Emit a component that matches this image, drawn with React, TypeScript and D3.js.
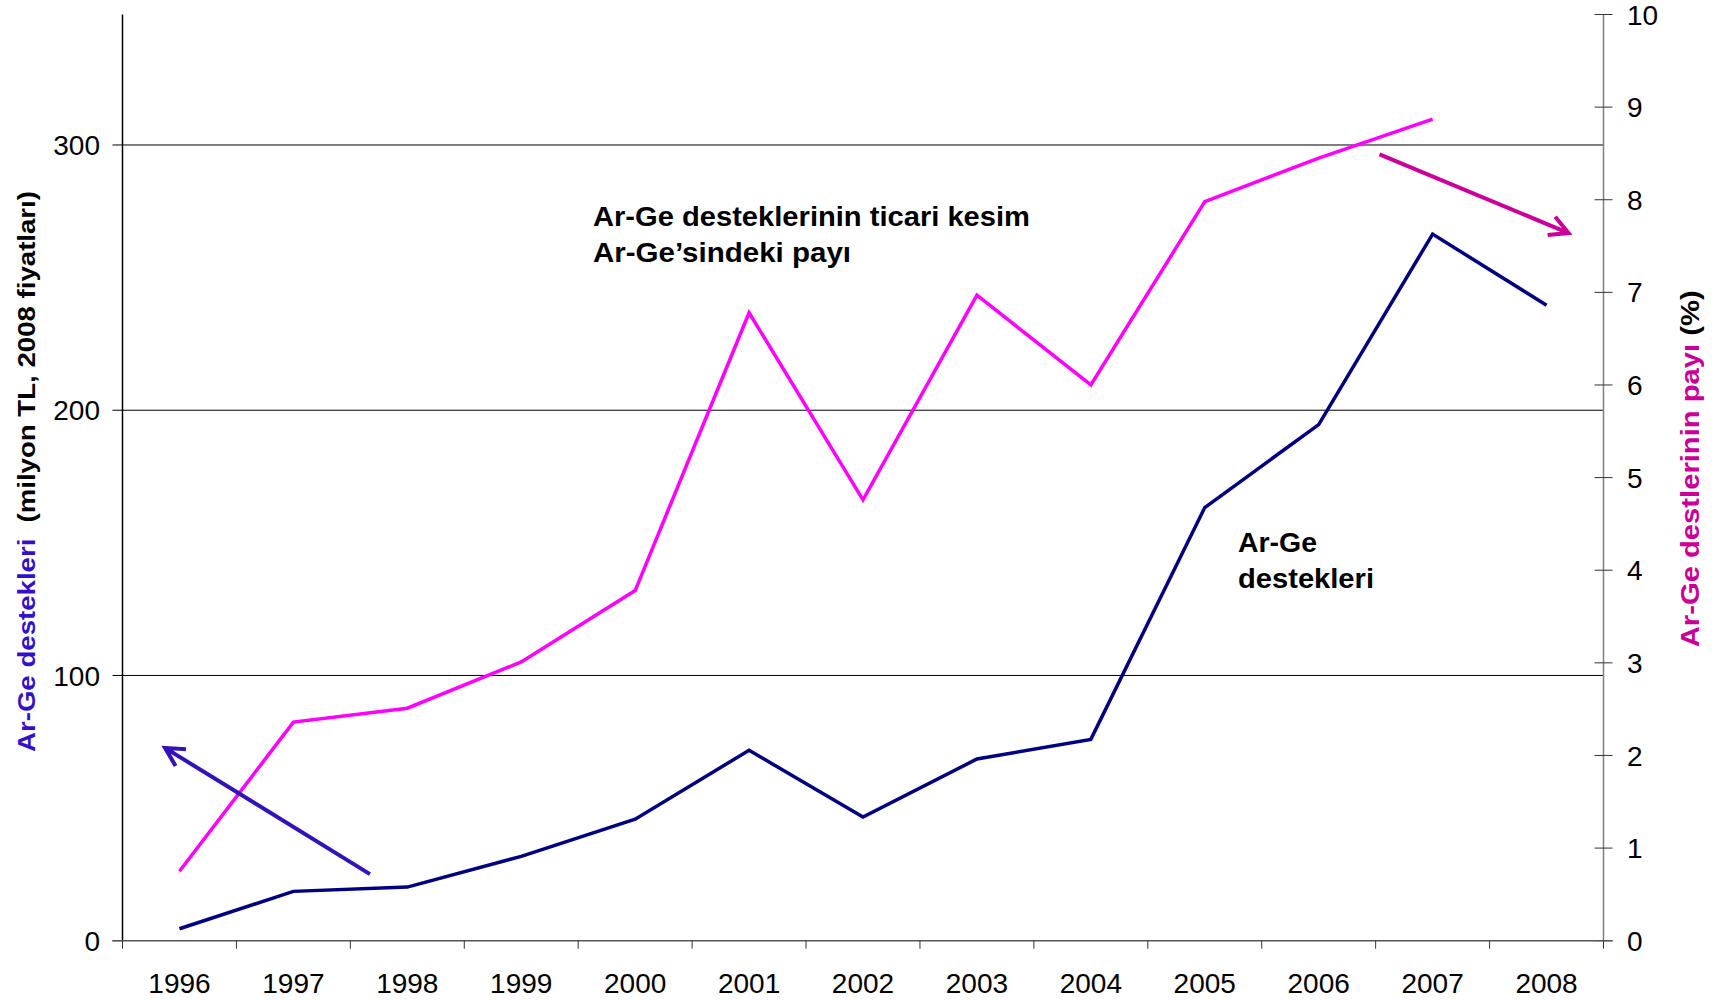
import React from "react";
import * as d3 from "d3";

const years = ["1996", "1997", "1998", "1999", "2000", "2001", "2002", "2003", "2004", "2005", "2006", "2007", "2008"];
// Ar-Ge destekleri (milyon TL, 2008 fiyatları) - left axis
const destekValues = [4.5, 18.6, 20.2, 31.8, 45.8, 71.8, 46.6, 68.5, 75.9, 163.3, 194.6, 266.4, 239.6];
// Ar-Ge desteklerinin payı (%) - right axis, no value for 2008
const payValues: (number | null)[] = [0.75, 2.36, 2.51, 3.01, 3.78, 6.78, 4.76, 6.97, 6.0, 7.98, 8.45, 8.87, null];

const leftTicks = [0, 100, 200, 300];
const gridValues = [100, 200, 300];
const rightTicks = [0, 1, 2, 3, 4, 5, 6, 7, 8, 9, 10];

// annotation arrows: [category index, value]
const blueArrow = { from: [1.672, 25.1], to: [-0.127, 72.7] };
const pinkArrow = { from: [10.534, 8.49], to: [12.193, 7.64] };

const W = 1715;
const H = 1001;
const left = 122.5;
const right = 1603.5;
const top = 14.5;
const bottom = 940.7;
const font = "'Liberation Sans', Arial, sans-serif";
const narrow = "'Liberation Sans Narrow', 'Arial Narrow', 'Liberation Sans', Arial, sans-serif";

function arrowPath(x1: number, y1: number, x2: number, y2: number) {
  const ang = Math.atan2(y1 - y2, x1 - x2);
  const len = 21;
  const spread = (28 * Math.PI) / 180;
  const a1 = [x2 + len * Math.cos(ang + spread), y2 + len * Math.sin(ang + spread)];
  const a2 = [x2 + len * Math.cos(ang - spread), y2 + len * Math.sin(ang - spread)];
  return `M${x1},${y1}L${x2},${y2}M${a1[0]},${a1[1]}L${x2},${y2}L${a2[0]},${a2[1]}`;
}

const App: React.FC = () => {
  const x = d3.scaleBand<string>().domain(years).range([left, right]).padding(0);
  const cx = (i: number) => (x(years[0]) as number) + x.bandwidth() * (i + 0.5);
  const yL = d3.scaleLinear().domain([0, 349.2]).range([bottom, top]);
  const yR = d3.scaleLinear().domain([0, 10]).range([bottom, top]);

  const destekLine = d3
    .line<number>()
    .x((_, i) => cx(i))
    .y((d) => yL(d));

  const payLine = d3
    .line<number | null>()
    .defined((d) => d !== null)
    .x((_, i) => cx(i))
    .y((d) => yR(d as number));

  const bounds = years.map((y) => x(y) as number).concat([right]);

  return (
    <svg
      width={W}
      height={H}
      style={{ position: "absolute", left: 0, top: 0, background: "#fff" }}
    >
      {/* gridlines */}
      {gridValues.map((v) => (
        <line key={v} x1={left} x2={right} y1={yL(v)} y2={yL(v)} stroke="#000" strokeWidth={1} />
      ))}

      {/* left axis */}
      <line x1={left} x2={left} y1={top} y2={bottom} stroke="#000" strokeWidth={1.5} />
      {leftTicks.map((v) => (
        <g key={v}>
          <line x1={left - 10} x2={left} y1={yL(v)} y2={yL(v)} stroke="#000" strokeWidth={1} />
          <text x={100} y={yL(v)} dy="0.36em" textAnchor="end" fontFamily={font} fontSize={28} fill="#000">
            {v}
          </text>
        </g>
      ))}

      {/* right axis */}
      <line x1={right} x2={right} y1={top} y2={bottom} stroke="#808080" strokeWidth={1.5} />
      {rightTicks.map((v) => (
        <g key={v}>
          <line x1={right - 9} x2={right + 9} y1={yR(v)} y2={yR(v)} stroke="#333" strokeWidth={1} />
          <text x={1627} y={yR(v)} dy="0.36em" fontFamily={font} fontSize={28} fill="#000">
            {v}
          </text>
        </g>
      ))}

      {/* bottom axis */}
      <line x1={left - 10} x2={right + 9} y1={bottom} y2={bottom} stroke="#555" strokeWidth={1.5} />
      {bounds.map((b, i) => (
        <line key={i} x1={b} x2={b} y1={bottom} y2={bottom + 8} stroke="#333" strokeWidth={1} />
      ))}
      {years.map((yr, i) => (
        <text key={yr} x={cx(i)} y={993} textAnchor="middle" fontFamily={font} fontSize={28} fill="#000">
          {yr}
        </text>
      ))}

      {/* series */}
      <path d={payLine(payValues) || ""} fill="none" stroke="#FF00FF" strokeWidth={3.5} strokeLinejoin="miter" />
      <path d={destekLine(destekValues) || ""} fill="none" stroke="#000080" strokeWidth={3.5} strokeLinejoin="miter" />

      {/* arrows */}
      <path
        d={arrowPath(cx(blueArrow.from[0]), yL(blueArrow.from[1]), cx(blueArrow.to[0]), yL(blueArrow.to[1]))}
        fill="none"
        stroke="#3311BB"
        strokeWidth={4}
      />
      <path
        d={arrowPath(cx(pinkArrow.from[0]), yR(pinkArrow.from[1]), cx(pinkArrow.to[0]), yR(pinkArrow.to[1]))}
        fill="none"
        stroke="#CC0099"
        strokeWidth={4}
      />

      {/* annotations */}
      <text x={593} y={226} fontFamily={font} fontWeight="bold" fontSize={28} fill="#000" textLength={437} lengthAdjust="spacingAndGlyphs">
        Ar-Ge desteklerinin ticari kesim
      </text>
      <text x={593} y={262} fontFamily={font} fontWeight="bold" fontSize={28} fill="#000" textLength={258} lengthAdjust="spacingAndGlyphs">
        Ar-Ge’sindeki payı
      </text>
      <text x={1238} y={552} fontFamily={font} fontWeight="bold" fontSize={27} fill="#000" textLength={79} lengthAdjust="spacingAndGlyphs">
        Ar-Ge
      </text>
      <text x={1238} y={588} fontFamily={font} fontWeight="bold" fontSize={27} fill="#000" textLength={136} lengthAdjust="spacingAndGlyphs">
        destekleri
      </text>

      {/* axis titles */}
      <text
        transform={`translate(35,${(191 + 752) / 2}) rotate(-90)`}
        textAnchor="middle"
        fontFamily={narrow}
        fontWeight="bold"
        fontSize={24}
        textLength={561}
        lengthAdjust="spacingAndGlyphs"
      >
        <tspan fill="#3311CC">Ar-Ge destekleri</tspan>
        <tspan fill="#000" dx={14}>(milyon TL, 2008 fiyatları)</tspan>
      </text>
      <text
        transform={`translate(1699,${(290 + 647.5) / 2}) rotate(-90)`}
        textAnchor="middle"
        fontFamily={narrow}
        fontWeight="bold"
        fontSize={25}
        textLength={357}
        lengthAdjust="spacingAndGlyphs"
      >
        <tspan fill="#CC0099">Ar-Ge destlerinin payı</tspan>
        <tspan fill="#000"> (%)</tspan>
      </text>
    </svg>
  );
};

export default App;
